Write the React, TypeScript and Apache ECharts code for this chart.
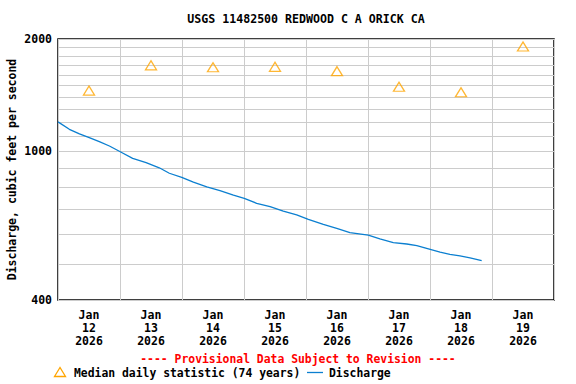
import React, { useEffect, useRef } from "react";
import * as echarts from "echarts";

const dayLabels = ["12", "13", "14", "15", "16", "17", "18", "19"];
const medianCfs = [1455, 1700, 1680, 1685, 1640, 1490, 1440, 1910];
const dischargeHours = [0, 4.4, 8.3, 12.1, 16, 19.9, 24.1, 28.9, 34.1, 39.2, 43.1, 47.9, 52.4, 57.6, 62.7, 67.9, 72.1, 76.9, 82.1, 87.2, 92.4, 96.9, 102.7, 107.9, 113, 120.1, 124.6, 129.8, 135, 138.9, 142.7, 147.9, 151.7, 155.6, 159.5, 164];
const dischargeCfs = [1200, 1146, 1114, 1088, 1062, 1034, 998, 958, 933, 904, 874, 852, 827, 804, 785, 764, 749, 726, 711, 692, 676, 658, 638, 622, 606, 597, 583, 570, 565, 559, 550, 537, 530, 525, 519, 510];
const yGridValues = [400, 500, 600, 700, 800, 900, 1000, 1100, 1200, 1300, 1400, 1500, 1600, 1700, 1800, 1900, 2000];
const yLabelValues = [400, 1000, 2000];

const FONT = "'DejaVu Sans Mono', monospace";

export default function App() {
  const ref = useRef<HTMLDivElement>(null);
  useEffect(() => {
    const chart = echarts.init(ref.current!, null, { renderer: "svg" });
    chart.setOption({
      animation: false,
      backgroundColor: "#ffffff",
      grid: { left: 58, right: 22, top: 39, bottom: 84, containLabel: false, outerBoundsMode: "none", show: true, borderColor: "#000", borderWidth: 1.5, backgroundColor: "transparent" },
      xAxis: [
        {
          type: "value", min: 0, max: 192, interval: 24,
          axisLabel: { show: false }, axisTick: { show: false },
          axisLine: { show: false },
          splitLine: { show: true, lineStyle: { color: "#cccccc", width: 1 } },
        },
        {
          type: "category", data: dayLabels, boundaryGap: true, position: "bottom",
          axisLine: { show: false }, axisTick: { show: false }, splitLine: { show: false },
          axisLabel: {
            margin: 8, color: "#000", fontFamily: FONT, fontWeight: "bold", fontSize: 11.5, lineHeight: 13,
            formatter: (v: string) => "Jan\n" + v + "\n2026",
          },
        },
      ],
      yAxis: {
        type: "log", logBase: 10, min: 400, max: 2000,
        axisLine: { show: false },
        axisTick: { show: false, customValues: yGridValues },
        splitLine: { show: true, lineStyle: { color: "#cccccc", width: 1 } },
        axisLabel: {
          customValues: yLabelValues, color: "#000", fontFamily: FONT, fontWeight: "bold", fontSize: 11.5, margin: 6,
          formatter: (v: number) => String(Math.round(v)),
        },
        name: "Discharge, cubic feet per second",
        nameLocation: "middle", nameGap: 40, nameMoveOverlap: false,
        nameTextStyle: { color: "#000", fontFamily: FONT, fontWeight: "bold", fontSize: 11.5 },
      },
      series: [
        {
          name: "Discharge", type: "line", xAxisIndex: 0,
          data: dischargeHours.map((h, i) => [h, dischargeCfs[i]]),
          symbol: "none", lineStyle: { color: "#0b7fd0", width: 1.3 }, z: 3,
        },
        {
          name: "Median daily statistic (74 years)", type: "scatter", xAxisIndex: 1,
          data: medianCfs.map((v, i) => [dayLabels[i], v]),
          symbol: "triangle", symbolSize: [11, 9],
          itemStyle: { color: "transparent", borderColor: "#ffa500", borderWidth: 1.3 }, z: 4,
        },
      ],
      graphic: [
        { type: "text", x: 306, y: 19, style: { text: "USGS 11482500 REDWOOD C A ORICK CA", font: "bold 11.6px " + FONT, fill: "#000", align: "center", verticalAlign: "middle" } },
        { type: "text", x: 298, y: 358.5, style: { text: "---- Provisional Data Subject to Revision ----", font: "bold 11.4px " + FONT, fill: "#ff0000", align: "center", verticalAlign: "middle" } },
        { type: "polygon", shape: { points: [[60, 367.5], [54.5, 376.5], [65.5, 376.5]] }, style: { fill: "none", stroke: "#ffa500", lineWidth: 1.3 } },
        { type: "text", x: 74, y: 373, style: { text: "Median daily statistic (74 years)", font: "bold 11.4px " + FONT, fill: "#000", align: "left", verticalAlign: "middle" } },
        { type: "line", shape: { x1: 307, y1: 372.5, x2: 323, y2: 372.5 }, style: { stroke: "#0b7fd0", lineWidth: 1.3 } },
        { type: "text", x: 329, y: 373, style: { text: "Discharge", font: "bold 11.4px " + FONT, fill: "#000", align: "left", verticalAlign: "middle" } },
      ],
    });
    return () => chart.dispose();
  }, []);
  return <div ref={ref} style={{ position: "fixed", left: 0, top: 0, width: 576, height: 384 }} />;
}
